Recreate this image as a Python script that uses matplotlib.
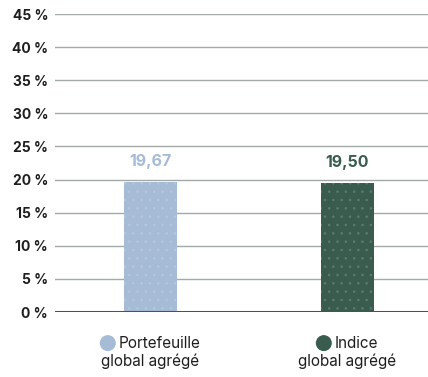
import matplotlib
matplotlib.use("Agg")
import matplotlib.pyplot as plt
from matplotlib.offsetbox import AnnotationBbox, DrawingArea, HPacker, TextArea, VPacker
from matplotlib.patches import Circle

# séries
categories = ["Portefeuille\nglobal agrégé", "Indice\nglobal agrégé"]
values = [19.67, 19.50]
value_labels = ["19,67", "19,50"]
yticks = [0, 5, 10, 15, 20, 25, 30, 35, 40, 45]

bar_colors = ["#a6bbd5", "#3a5c4f"]
dot_colors = ["#b6c7dc", "#5c7b6d"]
text_dark = "#1e1e1e"

plt.rcParams["font.family"] = ["Inter", "DejaVu Sans"]
plt.rcParams["hatch.linewidth"] = 0.6

fig = plt.figure(figsize=(4.28, 3.77), dpi=100)
ax = fig.add_axes([55 / 428, 65 / 377, 373 / 428, 298 / 377])

x = [0, 1]
bars = ax.bar(x, values, width=0.27, color=bar_colors, zorder=3, linewidth=0)
for b, dc in zip(bars, dot_colors):
    b.set_hatch("..")
    b.set_edgecolor(dc)

# grille horizontale
for t in yticks[1:]:
    ax.axhline(t, color="#a3aaa8", linewidth=1.0, zorder=1)
ax.axhline(0, color="#3a5c4f", linewidth=2.2, zorder=4)

ax.set_xlim(-0.485, 1.41)
ax.set_ylim(0, 45)
ax.set_yticks(yticks)
ax.set_yticklabels([f"{t} %" for t in yticks], fontsize=10, fontweight="bold", color=text_dark)
ax.tick_params(axis="y", length=0, pad=5)
ax.set_xticks([])
for s in ax.spines.values():
    s.set_visible(False)

# valeurs au-dessus des barres
for xi, v, lab, c in zip(x, values, value_labels, bar_colors):
    ax.annotate(lab, (xi, v), xytext=(0, 9), textcoords="offset points",
                ha="center", va="bottom", fontsize=11.5, fontweight="bold", color=c)

# légende sous chaque barre
for xi, cat, c in zip(x, categories, bar_colors):
    first, second = cat.split("\n")
    da = DrawingArea(10.5, 10.5, 0, 0)
    da.add_artist(Circle((5.25, 5.25), 5.25, color=c))
    line1 = HPacker(children=[da, TextArea(first, textprops=dict(fontsize=11, color=text_dark))],
                    pad=0, sep=2.5, align="center")
    line2 = TextArea(second, textprops=dict(fontsize=11, color=text_dark))
    box = VPacker(children=[line1, line2], pad=0, sep=2, align="center")
    ab = AnnotationBbox(box, (xi, 0), xycoords=("data", "axes fraction"),
                        xybox=(0, -17), boxcoords="offset points",
                        box_alignment=(0.5, 1), frameon=False)
    ax.add_artist(ab)

fig.savefig("out.png", dpi=100)
